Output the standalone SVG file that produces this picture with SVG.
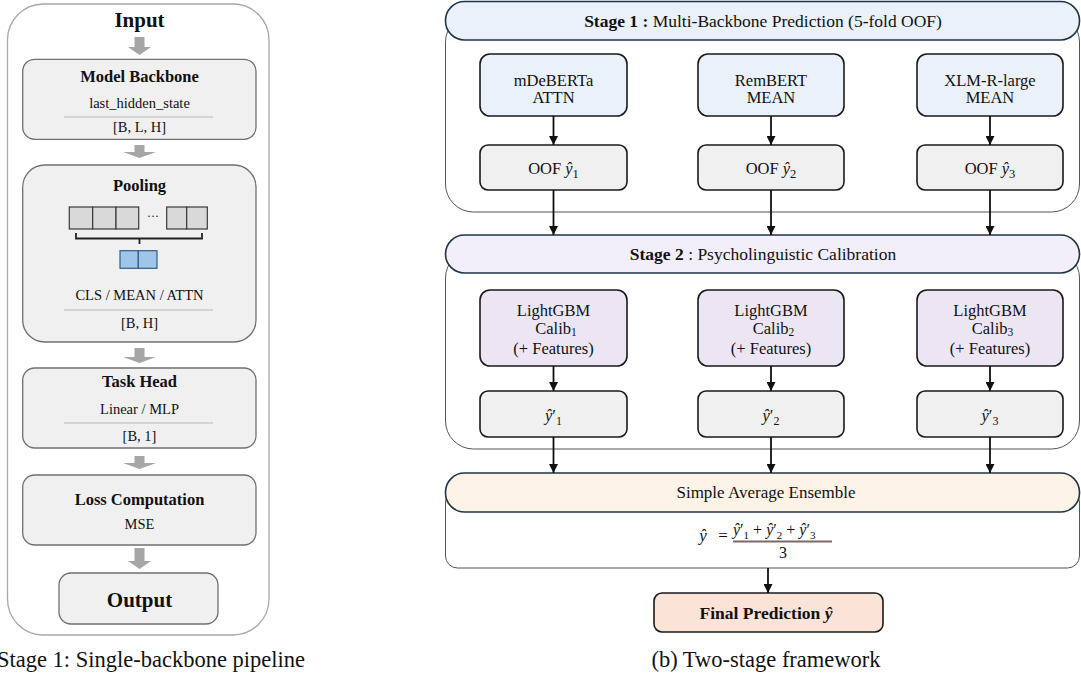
<svg xmlns="http://www.w3.org/2000/svg" width="1081" height="673" viewBox="0 0 1081 673">
<defs>
<style>
.t{font-family:"Liberation Serif","Times New Roman",serif;fill:#111;text-anchor:middle}
.b{font-weight:bold}
.m{font-family:"Liberation Serif","DejaVu Serif",serif;fill:#111}
.i{font-style:italic}
.outer{fill:#fff;stroke:#a8a8a8;stroke-width:1.3}
.lbox{fill:#f0f0f0;stroke:#707070;stroke-width:1.3}
.garrow{fill:#a6a6a6}
.sep{stroke:#b8b8b8;stroke-width:1}
.gcell{fill:#d9d9d9;stroke:#3a3a3a;stroke-width:1.2}
.bcell{fill:#9fc5e8;stroke:#2f5f8a;stroke-width:1.2}
.cont{fill:#fff;stroke:#555;stroke-width:1}
.hdr{stroke:#1f3547;stroke-width:1.6}
.node{stroke:#1a1a1a;stroke-width:1.6}
.conn{stroke:#111;stroke-width:1.8;fill:none;marker-end:url(#ah)}
</style>
<marker id="ah" markerUnits="userSpaceOnUse" markerWidth="10" markerHeight="9" refX="9" refY="4.5" orient="auto">
<path d="M0,0 L9,4.5 L0,9 z" fill="#111"/>
</marker>
</defs>

<!-- LEFT PANEL -->
<g id="left-panel">
<rect class="outer" x="7.5" y="4" width="261.5" height="631" rx="36"/>
</g>
<g id="input"><text class="t b" x="139.5" y="27" font-size="21">Input</text></g>
<g id="backbone">
<rect class="lbox" x="22.7" y="59.3" width="233.3" height="80" rx="12"/>
<text class="t b" x="139.5" y="82" font-size="16.5">Model Backbone</text>
<text class="t" x="139.5" y="108" font-size="14.5">last_hidden_state</text>
<line class="sep" x1="64" y1="117" x2="213" y2="117"/>
<text class="t" x="139.5" y="132" font-size="14.5">[B, L, H]</text>
</g>
<g id="pooling">
<rect class="lbox" x="22.7" y="165" width="233.3" height="177" rx="22"/>
<text class="t b" x="139.5" y="191" font-size="16.5">Pooling</text>
<rect class="gcell" x="69.3" y="207" width="23.4" height="22"/>
<rect class="gcell" x="92.7" y="207" width="23.3" height="22"/>
<rect class="gcell" x="116" y="207" width="22.7" height="22"/>
<text class="t" x="153" y="220" font-size="12">···</text>
<rect class="gcell" x="166.7" y="207" width="20" height="22"/>
<rect class="gcell" x="186.7" y="207" width="20.6" height="22"/>
<path d="M76,233 V238.5 H202 V233 M139.5,238.5 V244" fill="none" stroke="#222" stroke-width="1.8"/>
<rect class="bcell" x="120" y="250.7" width="18.3" height="17.6"/>
<rect class="bcell" x="138.3" y="250.7" width="18.7" height="17.6"/>
<text class="t" x="139.5" y="300" font-size="14.5">CLS / MEAN / ATTN</text>
<line class="sep" x1="64" y1="310" x2="213" y2="310"/>
<text class="t" x="139.5" y="328" font-size="14.5">[B, H]</text>
</g>
<g id="taskhead">
<rect class="lbox" x="22.7" y="368" width="233.3" height="80" rx="12"/>
<text class="t b" x="139.5" y="387" font-size="16.5">Task Head</text>
<text class="t" x="139.5" y="414" font-size="14.5">Linear / MLP</text>
<line class="sep" x1="64" y1="423" x2="213" y2="423"/>
<text class="t" x="139.5" y="441" font-size="14.5">[B, 1]</text>
</g>
<g id="loss">
<rect class="lbox" x="22.7" y="475" width="233.3" height="70" rx="12"/>
<text class="t b" x="139.5" y="505" font-size="16.5">Loss Computation</text>
<text class="t" x="139.5" y="529" font-size="14.5">MSE</text>
</g>
<g id="output">
<rect class="lbox" x="59" y="573" width="159" height="51" rx="12"/>
<text class="t b" x="139.5" y="606.5" font-size="21">Output</text>
</g>
<g id="left-arrows">
<polygon class="garrow" points="134.5,37 144.5,37 144.5,47 151,47 139.5,55 128,47 134.5,47"/>
<polygon class="garrow" points="134.5,145 144.5,145 144.5,152 156,152 139.5,158 123,152 134.5,152"/>
<polygon class="garrow" points="134.5,348 144.5,348 144.5,357 156,357 139.5,363 123,357 134.5,357"/>
<polygon class="garrow" points="134.5,456 144.5,456 144.5,463 156,463 139.5,469 123,463 134.5,463"/>
<polygon class="garrow" points="134.5,548 144.5,548 144.5,561 151,561 139.5,569 128,561 134.5,561"/>
</g>
<text class="t" x="-3" y="667" font-size="22.5" style="text-anchor:start">Stage 1: Single-backbone pipeline</text>

<!-- RIGHT PANEL -->
<g id="stage1">
<rect class="cont" x="445.5" y="14" width="634" height="198" rx="28"/>
<rect class="hdr" x="445.5" y="1.5" width="634" height="38.5" rx="19" fill="#eaf1fa"/>
<text class="t" x="763" y="27" font-size="17.5"><tspan class="b">Stage 1 :</tspan> Multi-Backbone Prediction (5-fold OOF)</text>
</g>
<g id="mdeberta">
<rect class="node" x="480" y="54" width="147" height="62" rx="10" fill="#eaf1fa"/>
<text class="t" x="553.5" y="86" font-size="16.5">mDeBERTa</text>
<text class="t" x="553.5" y="103" font-size="16.5">ATTN</text>
</g>
<g id="rembert">
<rect class="node" x="698" y="54" width="146" height="62" rx="10" fill="#eaf1fa"/>
<text class="t" x="771" y="86" font-size="16.5">RemBERT</text>
<text class="t" x="771" y="103" font-size="16.5">MEAN</text>
</g>
<g id="xlmr">
<rect class="node" x="917" y="54" width="146" height="62" rx="10" fill="#eaf1fa"/>
<text class="t" x="990" y="86" font-size="16.5">XLM-R-large</text>
<text class="t" x="990" y="103" font-size="16.5">MEAN</text>
</g>
<g id="oof1">
<rect class="node" x="480" y="145" width="147" height="45" rx="8" fill="#f0f0f0"/>
<text class="t" x="553.5" y="174" font-size="16.5">OOF <tspan class="i">ŷ</tspan><tspan font-size="12.5" dy="4">1</tspan></text>
</g>
<g id="oof2">
<rect class="node" x="698" y="145" width="146" height="45" rx="8" fill="#f0f0f0"/>
<text class="t" x="771" y="174" font-size="16.5">OOF <tspan class="i">ŷ</tspan><tspan font-size="12.5" dy="4">2</tspan></text>
</g>
<g id="oof3">
<rect class="node" x="917" y="145" width="146" height="45" rx="8" fill="#f0f0f0"/>
<text class="t" x="990" y="174" font-size="16.5">OOF <tspan class="i">ŷ</tspan><tspan font-size="12.5" dy="4">3</tspan></text>
</g>

<g id="stage2">
<rect class="cont" x="445.5" y="250" width="634" height="199" rx="28"/>
<rect class="hdr" x="445.5" y="235" width="634" height="38" rx="19" fill="#f2eefa"/>
<text class="t" x="763" y="260" font-size="17.5"><tspan class="b">Stage 2</tspan> : Psycholinguistic Calibration</text>
</g>
<g id="calib1">
<rect class="node" x="480" y="290" width="147" height="76" rx="10" fill="#ece6f4"/>
<text class="t" x="553.5" y="316" font-size="16.5">LightGBM</text>
<text class="t" x="556" y="333.5" font-size="16.5">Calib<tspan font-size="11.5" dy="2.5">1</tspan></text>
<text class="t" x="553.5" y="354" font-size="16.5">(+ Features)</text>
</g>
<g id="calib2">
<rect class="node" x="698" y="290" width="146" height="76" rx="10" fill="#ece6f4"/>
<text class="t" x="771" y="316" font-size="16.5">LightGBM</text>
<text class="t" x="773.5" y="333.5" font-size="16.5">Calib<tspan font-size="11.5" dy="2.5">2</tspan></text>
<text class="t" x="771" y="354" font-size="16.5">(+ Features)</text>
</g>
<g id="calib3">
<rect class="node" x="917" y="290" width="146" height="76" rx="10" fill="#ece6f4"/>
<text class="t" x="990" y="316" font-size="16.5">LightGBM</text>
<text class="t" x="992.5" y="333.5" font-size="16.5">Calib<tspan font-size="11.5" dy="2.5">3</tspan></text>
<text class="t" x="990" y="354" font-size="16.5">(+ Features)</text>
</g>
<g id="yp1">
<rect class="node" x="480" y="391" width="147" height="46" rx="8" fill="#f0f0f0"/>
<text class="t" x="553.5" y="421" font-size="16.5"><tspan class="i">ŷ</tspan>′<tspan font-size="12" dy="4">1</tspan></text>
</g>
<g id="yp2">
<rect class="node" x="698" y="391" width="146" height="46" rx="8" fill="#f0f0f0"/>
<text class="t" x="771" y="421" font-size="16.5"><tspan class="i">ŷ</tspan>′<tspan font-size="12" dy="4">2</tspan></text>
</g>
<g id="yp3">
<rect class="node" x="917" y="391" width="146" height="46" rx="8" fill="#f0f0f0"/>
<text class="t" x="990" y="421" font-size="16.5"><tspan class="i">ŷ</tspan>′<tspan font-size="12" dy="4">3</tspan></text>
</g>

<g id="ensemble">
<rect class="cont" x="445.5" y="490" width="634" height="78" rx="12"/>
<rect class="hdr" x="445.5" y="473" width="634" height="39" rx="19" fill="#fdf3e7"/>
<text class="t" x="766" y="498" font-size="17">Simple Average Ensemble</text>
<text class="m i" x="703" y="541" font-size="17" text-anchor="middle">ŷ</text>
<text class="m" x="723" y="541" font-size="17" text-anchor="middle" fill="#7a6a66">=</text>
<text class="m" x="733" y="535" font-size="16"><tspan class="i">ŷ</tspan>′<tspan font-size="11" dy="4">1</tspan><tspan dy="-4"> + </tspan><tspan class="i">ŷ</tspan>′<tspan font-size="11" dy="4">2</tspan><tspan dy="-4"> + </tspan><tspan class="i">ŷ</tspan>′<tspan font-size="11" dy="4">3</tspan></text>
<line x1="733" y1="541.5" x2="832" y2="541.5" stroke="#7a6a66" stroke-width="1.8"/>
<text class="m" x="783" y="558" font-size="16" text-anchor="middle">3</text>
</g>
<g id="final">
<rect class="node" x="654" y="593" width="229" height="39" rx="8" fill="#fbe3d8"/>
<text class="t b" x="766" y="619" font-size="17.5">Final Prediction <tspan class="i">ŷ</tspan></text>
</g>
<text class="t" x="766" y="667" font-size="22.5">(b) Two-stage framework</text>

<g id="connectors">
<line class="conn" x1="553.5" y1="116" x2="553.5" y2="145"/>
<line class="conn" x1="771" y1="116" x2="771" y2="145"/>
<line class="conn" x1="990" y1="116" x2="990" y2="145"/>
<line class="conn" x1="553.5" y1="190" x2="553.5" y2="235"/>
<line class="conn" x1="771" y1="190" x2="771" y2="235"/>
<line class="conn" x1="990" y1="190" x2="990" y2="235"/>
<line class="conn" x1="553.5" y1="366" x2="553.5" y2="391"/>
<line class="conn" x1="771" y1="366" x2="771" y2="391"/>
<line class="conn" x1="990" y1="366" x2="990" y2="391"/>
<line class="conn" x1="553.5" y1="437" x2="553.5" y2="473"/>
<line class="conn" x1="771" y1="437" x2="771" y2="473"/>
<line class="conn" x1="990" y1="437" x2="990" y2="473"/>
<line class="conn" x1="768" y1="568" x2="768" y2="593"/>
</g>
</svg>
